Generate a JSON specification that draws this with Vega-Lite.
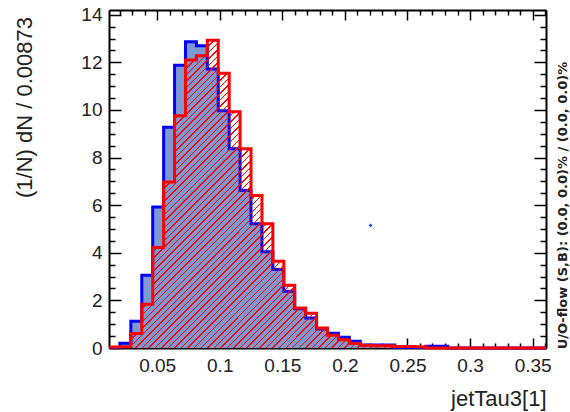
{
"$schema": "https://vega.github.io/schema/vega-lite/v6.json",
"width": 437, "height": 338,
"autosize": {"type": "none"},
"padding": {"left": 109, "top": 10, "right": 24, "bottom": 64},
"background": "white",
"config": {"view": {"stroke": null}, "font": "Liberation Sans"},
"datasets": {
"hist": [
{"x":0.0115,"sig":0.02,"bkg":0.04},
{"x":0.02023,"sig":0.2,"bkg":0.05},
{"x":0.02896,"sig":1.12,"bkg":0.61},
{"x":0.03769,"sig":3.06,"bkg":1.84},
{"x":0.04642,"sig":5.92,"bkg":4.22},
{"x":0.05515,"sig":9.27,"bkg":6.97},
{"x":0.06388,"sig":11.88,"bkg":9.76},
{"x":0.07261,"sig":12.87,"bkg":12.1},
{"x":0.08134,"sig":12.7,"bkg":12.28},
{"x":0.09007,"sig":11.72,"bkg":12.93},
{"x":0.0988,"sig":9.97,"bkg":11.54},
{"x":0.10753,"sig":8.37,"bkg":9.93},
{"x":0.11626,"sig":6.62,"bkg":8.37},
{"x":0.12499,"sig":5.22,"bkg":6.41},
{"x":0.13372,"sig":4.04,"bkg":5.22},
{"x":0.14245,"sig":3.3,"bkg":3.64},
{"x":0.15118,"sig":2.38,"bkg":2.64},
{"x":0.15991,"sig":1.65,"bkg":1.68},
{"x":0.16864,"sig":1.26,"bkg":1.46},
{"x":0.17737,"sig":0.8,"bkg":0.84},
{"x":0.1861,"sig":0.62,"bkg":0.54},
{"x":0.19483,"sig":0.45,"bkg":0.35},
{"x":0.20356,"sig":0.28,"bkg":0.19},
{"x":0.21229,"sig":0.13,"bkg":0.12},
{"x":0.22102,"sig":0.13,"bkg":0.09},
{"x":0.22975,"sig":0.13,"bkg":0.09},
{"x":0.23848,"sig":0.03,"bkg":0.06},
{"x":0.24721,"sig":0.02,"bkg":0.06},
{"x":0.25594,"sig":0.02,"bkg":0.05},
{"x":0.26467,"sig":0.07,"bkg":0},
{"x":0.2734,"sig":0.07,"bkg":0},
{"x":0.28213,"sig":0,"bkg":0},
{"x":0.29086,"sig":0,"bkg":0},
{"x":0.29959,"sig":0,"bkg":0},
{"x":0.30832,"sig":0,"bkg":0},
{"x":0.31705,"sig":0,"bkg":0},
{"x":0.32578,"sig":0,"bkg":0},
{"x":0.33451,"sig":0,"bkg":0},
{"x":0.34324,"sig":0,"bkg":0},
{"x":0.35197,"sig":0,"bkg":0},
{"x":0.3607,"sig":0,"bkg":0}
],
"marker": [{"x":0.2205,"y":5.15}]
},
"resolve": {"axis": {"x": "independent", "y": "independent"}},
"layer": [
{
"data": {"name": "hist"},
"mark": {"type": "area", "interpolate": "step-after", "fill": "#7e98d2"},
"encoding": {
"x": {"field": "x", "type": "quantitative", "scale": {"domain": [0.0115, 0.3607], "nice": false, "zero": false},
 "axis": {"orient": "bottom", "grid": false,
  "values": [0.02,0.03,0.04,0.05,0.06,0.07,0.08,0.09,0.1,0.11,0.12,0.13,0.14,0.15,0.16,0.17,0.18,0.19,0.2,0.21,0.22,0.23,0.24,0.25,0.26,0.27,0.28,0.29,0.3,0.31,0.32,0.33,0.34,0.35,0.36],
  "tickSize": {"condition": {"test": "abs(datum.value*20-round(datum.value*20))<0.001", "value": -10}, "value": -5},
  "labelExpr": "abs(datum.value*20-round(datum.value*20))<0.001 ? format(datum.value,'.2~f') : ''",
  "labelFont": "Liberation Sans", "labelFontSize": 19, "labelColor": "#222", "labelPadding": 18,
  "labelFlush": false, "labelOverlap": false,
  "domainColor": "black", "domainWidth": 2, "tickColor": "black", "tickWidth": 1.5,
  "title": "jetTau3[1]", "titleFont": "Liberation Sans", "titleFontSize": 22, "titleFontWeight": "normal", "titleColor": "#222",
  "titleAnchor": "end", "titleAlign": "right", "titleBaseline": "middle", "titleX": 437, "titleY": 50}},
"y": {"field": "sig", "type": "quantitative", "scale": {"domain": [0, 14.2], "nice": false},
 "axis": {"orient": "left", "grid": false,
  "values": [0,0.5,1,1.5,2,2.5,3,3.5,4,4.5,5,5.5,6,6.5,7,7.5,8,8.5,9,9.5,10,10.5,11,11.5,12,12.5,13,13.5,14],
  "tickSize": {"condition": {"test": "datum.value % 2 == 0", "value": -12}, "value": -6},
  "labelExpr": "datum.value % 2 == 0 ? format(datum.value,'d') : ''",
  "labelFont": "Liberation Sans", "labelFontSize": 19, "labelColor": "#222", "labelPadding": 19,
  "labelFlush": false, "labelOverlap": false,
  "domainColor": "black", "domainWidth": 2, "tickColor": "black", "tickWidth": 1.5,
  "title": "(1/N) dN / 0.00873", "titleFont": "Liberation Sans", "titleFontSize": 22, "titleFontWeight": "normal", "titleColor": "#222",
  "titleAngle": 270, "titleAlign": "center", "titleBaseline": "middle", "titleX": -85, "titleY": 97}}
}
},
{
"data": {"name": "hist"},
"mark": {"type": "line", "interpolate": "step-after", "stroke": "#0000ff", "strokeWidth": 3},
"encoding": {
"x": {"field": "x", "type": "quantitative", "scale": {"domain": [0.0115, 0.3607], "nice": false, "zero": false}, "axis": null},
"y": {"field": "sig", "type": "quantitative", "scale": {"domain": [0, 14.2], "nice": false}, "axis": null}
}
},
{
"data": {"name": "hist"},
"mark": {"type": "area", "interpolate": "step-after",
 "fill": {"gradient": "linear", "x1": 0, "y1": 0, "x2": 1, "y2": 0.704, "stops": [
{"offset":0.13,"color":"transparent"},
{"offset":0.13,"color":"red"},{"offset":0.1322,"color":"red"},{"offset":0.1322,"color":"transparent"},{"offset":0.14,"color":"transparent"},
{"offset":0.14,"color":"red"},{"offset":0.1422,"color":"red"},{"offset":0.1422,"color":"transparent"},{"offset":0.15,"color":"transparent"},
{"offset":0.15,"color":"red"},{"offset":0.1522,"color":"red"},{"offset":0.1522,"color":"transparent"},{"offset":0.16,"color":"transparent"},
{"offset":0.16,"color":"red"},{"offset":0.1622,"color":"red"},{"offset":0.1622,"color":"transparent"},{"offset":0.17,"color":"transparent"},
{"offset":0.17,"color":"red"},{"offset":0.1722,"color":"red"},{"offset":0.1722,"color":"transparent"},{"offset":0.18,"color":"transparent"},
{"offset":0.18,"color":"red"},{"offset":0.1822,"color":"red"},{"offset":0.1822,"color":"transparent"},{"offset":0.19,"color":"transparent"},
{"offset":0.19,"color":"red"},{"offset":0.1922,"color":"red"},{"offset":0.1922,"color":"transparent"},{"offset":0.2,"color":"transparent"},
{"offset":0.2,"color":"red"},{"offset":0.2022,"color":"red"},{"offset":0.2022,"color":"transparent"},{"offset":0.21,"color":"transparent"},
{"offset":0.21,"color":"red"},{"offset":0.2122,"color":"red"},{"offset":0.2122,"color":"transparent"},{"offset":0.22,"color":"transparent"},
{"offset":0.22,"color":"red"},{"offset":0.2222,"color":"red"},{"offset":0.2222,"color":"transparent"},{"offset":0.23,"color":"transparent"},
{"offset":0.23,"color":"red"},{"offset":0.2322,"color":"red"},{"offset":0.2322,"color":"transparent"},{"offset":0.24,"color":"transparent"},
{"offset":0.24,"color":"red"},{"offset":0.2422,"color":"red"},{"offset":0.2422,"color":"transparent"},{"offset":0.25,"color":"transparent"},
{"offset":0.25,"color":"red"},{"offset":0.2522,"color":"red"},{"offset":0.2522,"color":"transparent"},{"offset":0.26,"color":"transparent"},
{"offset":0.26,"color":"red"},{"offset":0.2622,"color":"red"},{"offset":0.2622,"color":"transparent"},{"offset":0.27,"color":"transparent"},
{"offset":0.27,"color":"red"},{"offset":0.2722,"color":"red"},{"offset":0.2722,"color":"transparent"},{"offset":0.28,"color":"transparent"},
{"offset":0.28,"color":"red"},{"offset":0.2822,"color":"red"},{"offset":0.2822,"color":"transparent"},{"offset":0.29,"color":"transparent"},
{"offset":0.29,"color":"red"},{"offset":0.2922,"color":"red"},{"offset":0.2922,"color":"transparent"},{"offset":0.3,"color":"transparent"},
{"offset":0.3,"color":"red"},{"offset":0.3022,"color":"red"},{"offset":0.3022,"color":"transparent"},{"offset":0.31,"color":"transparent"},
{"offset":0.31,"color":"red"},{"offset":0.3122,"color":"red"},{"offset":0.3122,"color":"transparent"},{"offset":0.32,"color":"transparent"},
{"offset":0.32,"color":"red"},{"offset":0.3222,"color":"red"},{"offset":0.3222,"color":"transparent"},{"offset":0.33,"color":"transparent"},
{"offset":0.33,"color":"red"},{"offset":0.3322,"color":"red"},{"offset":0.3322,"color":"transparent"},{"offset":0.34,"color":"transparent"},
{"offset":0.34,"color":"red"},{"offset":0.3422,"color":"red"},{"offset":0.3422,"color":"transparent"},{"offset":0.35,"color":"transparent"},
{"offset":0.35,"color":"red"},{"offset":0.3522,"color":"red"},{"offset":0.3522,"color":"transparent"},{"offset":0.36,"color":"transparent"},
{"offset":0.36,"color":"red"},{"offset":0.3622,"color":"red"},{"offset":0.3622,"color":"transparent"},{"offset":0.37,"color":"transparent"},
{"offset":0.37,"color":"red"},{"offset":0.3722,"color":"red"},{"offset":0.3722,"color":"transparent"},{"offset":0.38,"color":"transparent"},
{"offset":0.38,"color":"red"},{"offset":0.3822,"color":"red"},{"offset":0.3822,"color":"transparent"},{"offset":0.39,"color":"transparent"},
{"offset":0.39,"color":"red"},{"offset":0.3922,"color":"red"},{"offset":0.3922,"color":"transparent"},{"offset":0.4,"color":"transparent"},
{"offset":0.4,"color":"red"},{"offset":0.4022,"color":"red"},{"offset":0.4022,"color":"transparent"},{"offset":0.41,"color":"transparent"},
{"offset":0.41,"color":"red"},{"offset":0.4122,"color":"red"},{"offset":0.4122,"color":"transparent"},{"offset":0.42,"color":"transparent"},
{"offset":0.42,"color":"red"},{"offset":0.4222,"color":"red"},{"offset":0.4222,"color":"transparent"},{"offset":0.43,"color":"transparent"},
{"offset":0.43,"color":"red"},{"offset":0.4322,"color":"red"},{"offset":0.4322,"color":"transparent"},{"offset":0.44,"color":"transparent"},
{"offset":0.44,"color":"red"},{"offset":0.4422,"color":"red"},{"offset":0.4422,"color":"transparent"},{"offset":0.45,"color":"transparent"},
{"offset":0.45,"color":"red"},{"offset":0.4522,"color":"red"},{"offset":0.4522,"color":"transparent"},{"offset":0.46,"color":"transparent"},
{"offset":0.46,"color":"red"},{"offset":0.4622,"color":"red"},{"offset":0.4622,"color":"transparent"},{"offset":0.47,"color":"transparent"},
{"offset":0.47,"color":"red"},{"offset":0.4722,"color":"red"},{"offset":0.4722,"color":"transparent"},{"offset":0.48,"color":"transparent"},
{"offset":0.48,"color":"red"},{"offset":0.4822,"color":"red"},{"offset":0.4822,"color":"transparent"},{"offset":0.49,"color":"transparent"},
{"offset":0.49,"color":"red"},{"offset":0.4922,"color":"red"},{"offset":0.4922,"color":"transparent"},{"offset":0.5,"color":"transparent"},
{"offset":0.5,"color":"red"},{"offset":0.5022,"color":"red"},{"offset":0.5022,"color":"transparent"},{"offset":0.51,"color":"transparent"},
{"offset":0.51,"color":"red"},{"offset":0.5122,"color":"red"},{"offset":0.5122,"color":"transparent"},{"offset":0.52,"color":"transparent"},
{"offset":0.52,"color":"red"},{"offset":0.5222,"color":"red"},{"offset":0.5222,"color":"transparent"},{"offset":0.53,"color":"transparent"},
{"offset":0.53,"color":"red"},{"offset":0.5322,"color":"red"},{"offset":0.5322,"color":"transparent"},{"offset":0.54,"color":"transparent"},
{"offset":0.54,"color":"red"},{"offset":0.5422,"color":"red"},{"offset":0.5422,"color":"transparent"},{"offset":0.55,"color":"transparent"},
{"offset":0.55,"color":"red"},{"offset":0.5522,"color":"red"},{"offset":0.5522,"color":"transparent"},{"offset":0.56,"color":"transparent"},
{"offset":0.56,"color":"red"},{"offset":0.5622,"color":"red"},{"offset":0.5622,"color":"transparent"},{"offset":0.57,"color":"transparent"},
{"offset":0.57,"color":"red"},{"offset":0.5722,"color":"red"},{"offset":0.5722,"color":"transparent"},{"offset":0.58,"color":"transparent"},
{"offset":0.58,"color":"red"},{"offset":0.5822,"color":"red"},{"offset":0.5822,"color":"transparent"},{"offset":0.59,"color":"transparent"},
{"offset":0.59,"color":"red"},{"offset":0.5922,"color":"red"},{"offset":0.5922,"color":"transparent"},{"offset":0.6,"color":"transparent"},
{"offset":0.6,"color":"red"},{"offset":0.6022,"color":"red"},{"offset":0.6022,"color":"transparent"},{"offset":0.61,"color":"transparent"},
{"offset":0.61,"color":"red"},{"offset":0.6122,"color":"red"},{"offset":0.6122,"color":"transparent"},{"offset":0.62,"color":"transparent"},
{"offset":0.62,"color":"red"},{"offset":0.6222,"color":"red"},{"offset":0.6222,"color":"transparent"},{"offset":0.63,"color":"transparent"},
{"offset":0.63,"color":"red"},{"offset":0.6322,"color":"red"},{"offset":0.6322,"color":"transparent"},{"offset":0.64,"color":"transparent"},
{"offset":0.64,"color":"red"},{"offset":0.6422,"color":"red"},{"offset":0.6422,"color":"transparent"},{"offset":0.65,"color":"transparent"},
{"offset":0.65,"color":"red"},{"offset":0.6522,"color":"red"},{"offset":0.6522,"color":"transparent"},{"offset":0.66,"color":"transparent"},
{"offset":0.66,"color":"red"},{"offset":0.6622,"color":"red"},{"offset":0.6622,"color":"transparent"},{"offset":0.67,"color":"transparent"},
{"offset":0.67,"color":"red"},{"offset":0.6722,"color":"red"},{"offset":0.6722,"color":"transparent"},{"offset":0.68,"color":"transparent"},
{"offset":0.68,"color":"red"},{"offset":0.6822,"color":"red"},{"offset":0.6822,"color":"transparent"},{"offset":0.69,"color":"transparent"},
{"offset":0.69,"color":"red"},{"offset":0.6922,"color":"red"},{"offset":0.6922,"color":"transparent"},{"offset":0.7,"color":"transparent"},
{"offset":0.7,"color":"red"},{"offset":0.7022,"color":"red"},{"offset":0.7022,"color":"transparent"},{"offset":0.71,"color":"transparent"},
{"offset":0.71,"color":"red"},{"offset":0.7122,"color":"red"},{"offset":0.7122,"color":"transparent"},{"offset":0.72,"color":"transparent"},
{"offset":0.72,"color":"red"},{"offset":0.7222,"color":"red"},{"offset":0.7222,"color":"transparent"},{"offset":0.73,"color":"transparent"},
{"offset":0.73,"color":"red"},{"offset":0.7322,"color":"red"},{"offset":0.7322,"color":"transparent"},{"offset":0.74,"color":"transparent"},
{"offset":0.74,"color":"red"},{"offset":0.7422,"color":"red"},{"offset":0.7422,"color":"transparent"},{"offset":0.75,"color":"transparent"},
{"offset":0.75,"color":"red"},{"offset":0.7522,"color":"red"},{"offset":0.7522,"color":"transparent"},{"offset":0.76,"color":"transparent"},
{"offset":0.76,"color":"red"},{"offset":0.7622,"color":"red"},{"offset":0.7622,"color":"transparent"},{"offset":0.77,"color":"transparent"},
{"offset":0.77,"color":"red"},{"offset":0.7722,"color":"red"},{"offset":0.7722,"color":"transparent"},{"offset":0.78,"color":"transparent"},
{"offset":0.78,"color":"red"},{"offset":0.7822,"color":"red"},{"offset":0.7822,"color":"transparent"},{"offset":0.79,"color":"transparent"},
{"offset":0.79,"color":"red"},{"offset":0.7922,"color":"red"},{"offset":0.7922,"color":"transparent"},{"offset":0.8,"color":"transparent"},
{"offset":0.8,"color":"red"},{"offset":0.8022,"color":"red"},{"offset":0.8022,"color":"transparent"},{"offset":0.81,"color":"transparent"},
{"offset":0.81,"color":"red"},{"offset":0.8122,"color":"red"},{"offset":0.8122,"color":"transparent"},{"offset":0.82,"color":"transparent"},
{"offset":0.82,"color":"red"},{"offset":0.8222,"color":"red"},{"offset":0.8222,"color":"transparent"},{"offset":0.83,"color":"transparent"},
{"offset":0.83,"color":"red"},{"offset":0.8322,"color":"red"},{"offset":0.8322,"color":"transparent"},{"offset":0.84,"color":"transparent"},
{"offset":0.84,"color":"red"},{"offset":0.8422,"color":"red"},{"offset":0.8422,"color":"transparent"},{"offset":0.85,"color":"transparent"},
{"offset":0.85,"color":"red"},{"offset":0.8522,"color":"red"},{"offset":0.8522,"color":"transparent"},{"offset":0.86,"color":"transparent"},
{"offset":0.86,"color":"red"},{"offset":0.8622,"color":"red"},{"offset":0.8622,"color":"transparent"},{"offset":0.87,"color":"transparent"},
{"offset":0.87,"color":"red"},{"offset":0.8722,"color":"red"},{"offset":0.8722,"color":"transparent"},{"offset":0.88,"color":"transparent"},
{"offset":0.88,"color":"red"},{"offset":0.8822,"color":"red"},{"offset":0.8822,"color":"transparent"},{"offset":0.89,"color":"transparent"},
{"offset":0.89,"color":"red"},{"offset":0.8922,"color":"red"},{"offset":0.8922,"color":"transparent"},{"offset":0.9,"color":"transparent"},
{"offset":0.9,"color":"red"},{"offset":0.9022,"color":"red"},{"offset":0.9022,"color":"transparent"},{"offset":0.91,"color":"transparent"},
{"offset":0.91,"color":"red"},{"offset":0.9122,"color":"red"},{"offset":0.9122,"color":"transparent"},{"offset":0.92,"color":"transparent"},
{"offset":0.92,"color":"red"},{"offset":0.9222,"color":"red"},{"offset":0.9222,"color":"transparent"},{"offset":0.93,"color":"transparent"},
{"offset":0.93,"color":"red"},{"offset":0.9322,"color":"red"},{"offset":0.9322,"color":"transparent"},{"offset":0.94,"color":"transparent"},
{"offset":0.94,"color":"red"},{"offset":0.9422,"color":"red"},{"offset":0.9422,"color":"transparent"},{"offset":0.95,"color":"transparent"},
{"offset":0.95,"color":"red"},{"offset":0.9522,"color":"red"},{"offset":0.9522,"color":"transparent"},{"offset":0.96,"color":"transparent"},
{"offset":0.96,"color":"red"},{"offset":0.9622,"color":"red"},{"offset":0.9622,"color":"transparent"},{"offset":0.97,"color":"transparent"},
{"offset":0.97,"color":"red"},{"offset":0.9722,"color":"red"},{"offset":0.9722,"color":"transparent"},{"offset":0.98,"color":"transparent"},
{"offset":0.98,"color":"red"},{"offset":0.9822,"color":"red"},{"offset":0.9822,"color":"transparent"},{"offset":0.99,"color":"transparent"},
{"offset":0.99,"color":"red"},{"offset":0.9922,"color":"red"},{"offset":0.9922,"color":"transparent"},{"offset":1,"color":"transparent"}
]}},
"encoding": {
"x": {"field": "x", "type": "quantitative", "scale": {"domain": [0.0115, 0.3607], "nice": false, "zero": false}, "axis": null},
"y": {"field": "bkg", "type": "quantitative", "scale": {"domain": [0, 14.2], "nice": false}, "axis": null}
}
},
{
"data": {"name": "hist"},
"mark": {"type": "line", "interpolate": "step-after", "stroke": "#ff0000", "strokeWidth": 3},
"encoding": {
"x": {"field": "x", "type": "quantitative", "scale": {"domain": [0.0115, 0.3607], "nice": false, "zero": false}, "axis": null},
"y": {"field": "bkg", "type": "quantitative", "scale": {"domain": [0, 14.2], "nice": false}, "axis": null}
}
},
{
"data": {"name": "marker"},
"mark": {"type": "point", "shape": "cross", "filled": true, "size": 12, "color": "#2040ff", "opacity": 1},
"encoding": {
"x": {"field": "x", "type": "quantitative", "scale": {"domain": [0.0115, 0.3607], "nice": false, "zero": false},
 "axis": {"orient": "top", "grid": false, "labels": false, "title": null,
  "values": [0.02,0.03,0.04,0.05,0.06,0.07,0.08,0.09,0.1,0.11,0.12,0.13,0.14,0.15,0.16,0.17,0.18,0.19,0.2,0.21,0.22,0.23,0.24,0.25,0.26,0.27,0.28,0.29,0.3,0.31,0.32,0.33,0.34,0.35,0.36],
  "tickSize": {"condition": {"test": "abs(datum.value*20-round(datum.value*20))<0.001", "value": -10}, "value": -5},
  "domainColor": "black", "domainWidth": 2, "tickColor": "black", "tickWidth": 1.5}},
"y": {"field": "y", "type": "quantitative", "scale": {"domain": [0, 14.2], "nice": false},
 "axis": {"orient": "right", "grid": false, "labels": false,
  "values": [0,0.5,1,1.5,2,2.5,3,3.5,4,4.5,5,5.5,6,6.5,7,7.5,8,8.5,9,9.5,10,10.5,11,11.5,12,12.5,13,13.5,14],
  "tickSize": {"condition": {"test": "datum.value % 2 == 0", "value": -12}, "value": -6},
  "domainColor": "black", "domainWidth": 2, "tickColor": "black", "tickWidth": 1.5,
  "title": "U/O-flow (S,B): (0.0, 0.0)% / (0.0, 0.0)%", "titleFont": "DejaVu Sans", "titleFontSize": 13, "titleFontWeight": "bold", "titleColor": "#222",
  "titleAngle": 270, "titleAlign": "center", "titleBaseline": "middle", "titleX": 16, "titleY": 195}}
}
}
]
}
